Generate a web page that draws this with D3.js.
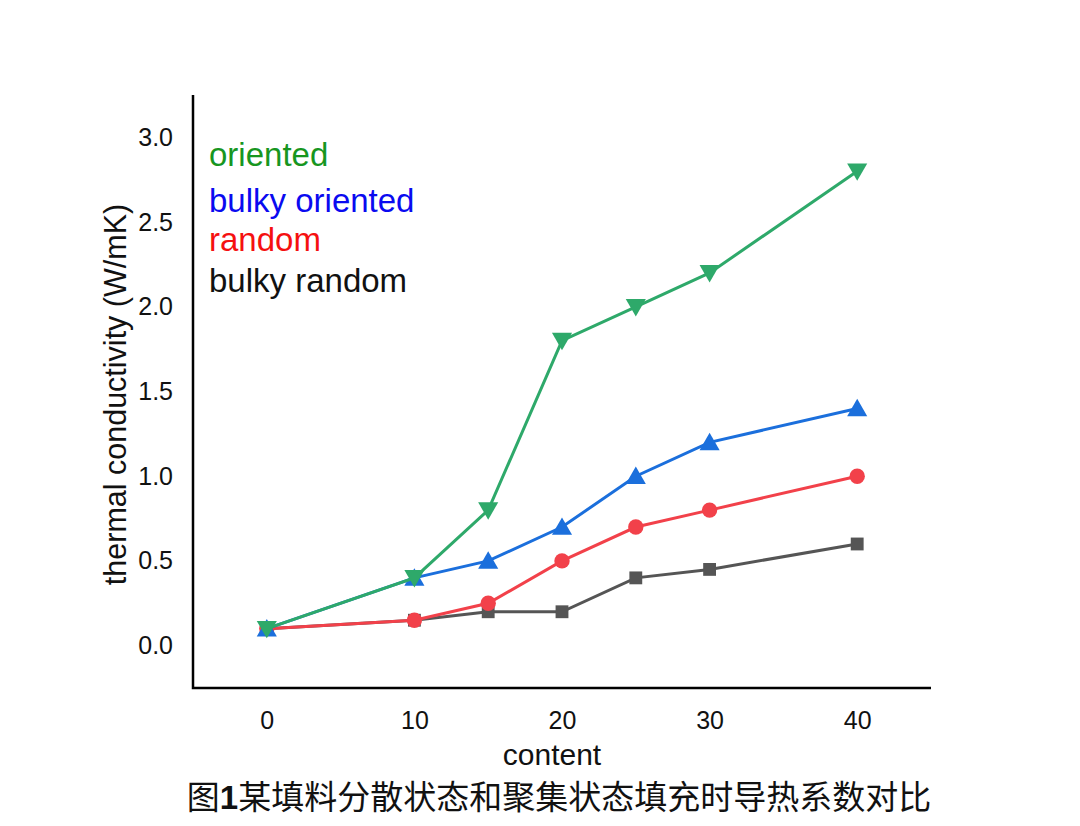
<!DOCTYPE html>
<html><head><meta charset="utf-8">
<script src="https://cdn.jsdelivr.net/npm/d3@7"></script>
<style>body{margin:0;background:#fff}</style>
</head><body>
<script>
const content = [0, 10, 15, 20, 25, 30, 40];
const oriented = [0.1, 0.4, 0.8, 1.8, 2.0, 2.2, 2.8];
const bulkyOriented = [0.1, 0.4, 0.5, 0.7, 1.0, 1.2, 1.4];
const random = [0.1, 0.15, 0.25, 0.5, 0.7, 0.8, 1.0];
const bulkyRandom = [0.1, 0.15, 0.2, 0.2, 0.4, 0.45, 0.6];
const xTicks = [0, 10, 20, 30, 40];
const yTicks = [0, 0.5, 1.0, 1.5, 2.0, 2.5, 3.0];
const seriesNames = ["bulky random", "random", "bulky oriented", "oriented"];
const legendNames = ["oriented", "bulky oriented", "random", "bulky random"];
const caption = ["图", "1", "某填料分散状态和聚集状态填充时导热系数对比"];

const W = 1080, H = 826;
const L = 193, R = 931, T = 95, B = 688;
const svg = d3.select("body").append("svg").attr("width", W).attr("height", H);
const x = d3.scaleLinear().domain([-5, 45]).range([L, R]);
const y = d3.scaleLinear().domain([-0.25, 3.25]).range([B, T]);

const styles = {
  "oriented": {line: "#2ea96a", text: "#17961f", sym: d3.symbolTriangle, rot: 180, size: 175},
  "bulky oriented": {line: "#1b6fdc", text: "#0a0af0", sym: d3.symbolTriangle, rot: 0, size: 175},
  "random": {line: "#f2414a", text: "#f51010", sym: d3.symbolCircle, rot: 0, size: 185},
  "bulky random": {line: "#555555", text: "#111111", sym: d3.symbolSquare, rot: 0, size: 165}
};
const data = {"oriented": oriented, "bulky oriented": bulkyOriented, "random": random, "bulky random": bulkyRandom};

// axes
const font = "Liberation Sans, Arial, sans-serif";
const ya = svg.append("g").attr("transform", `translate(${L},0)`)
  .call(d3.axisLeft(y).tickValues(yTicks).tickFormat(d3.format(".1f")).tickSize(0).tickPadding(20));
const xa = svg.append("g").attr("transform", `translate(0,${B})`)
  .call(d3.axisBottom(x).tickValues(xTicks).tickFormat(d3.format("d")).tickSize(0).tickPadding(23));
[ya, xa].forEach(a => {
  a.select(".domain").remove();
  a.selectAll("text").attr("font-family", font).attr("font-size", 25).attr("fill", "#111");
});
svg.append("path").attr("d", `M${L},${T}V${B}H${R}`).attr("fill", "none").attr("stroke", "#000").attr("stroke-width", 2.5);

// axis titles
svg.append("text").attr("x", (L + R) / 2 - 10).attr("y", 765).attr("text-anchor", "middle")
  .attr("font-family", font).attr("font-size", 30).attr("fill", "#111").text("content");
svg.append("text").attr("transform", `translate(126,${(T + B) / 2 + 3}) rotate(-90)`).attr("text-anchor", "middle")
  .attr("font-family", font).attr("font-size", 30.5).attr("fill", "#111").text("thermal conductivity (W/mK)");

// series
const line = d3.line().x((d, i) => x(content[i])).y(d => y(d));
seriesNames.forEach(name => {
  const s = styles[name], vals = data[name];
  const g = svg.append("g");
  g.append("path").datum(vals).attr("d", line).attr("fill", "none").attr("stroke", s.line).attr("stroke-width", 3);
  g.selectAll("path.m").data(vals).join("path").attr("class", "m")
    .attr("d", d3.symbol().type(s.sym).size(s.size))
    .attr("transform", (d, i) => `translate(${x(content[i])},${y(d) + (s.sym === d3.symbolTriangle ? (s.rot ? -2 : 2) : 0)}) rotate(${s.rot})`)
    .attr("fill", s.line);
});

// legend
const legY = [166, 212, 251, 292];
legendNames.forEach((name, i) => {
  svg.append("text").attr("x", 209).attr("y", legY[i]).attr("font-family", font).attr("font-size", 33)
    .attr("fill", styles[name].text).text(name);
});

// caption
const cap = svg.append("text").attr("x", 559).attr("y", 809).attr("text-anchor", "middle")
  .attr("font-family", "Noto Sans CJK SC, sans-serif").attr("font-size", 33).attr("fill", "#111");
cap.append("tspan").text(caption[0]);
cap.append("tspan").attr("font-family", font).attr("font-weight", "bold").text(caption[1]);
cap.append("tspan").text(caption[2]);
</script>
</body></html>
